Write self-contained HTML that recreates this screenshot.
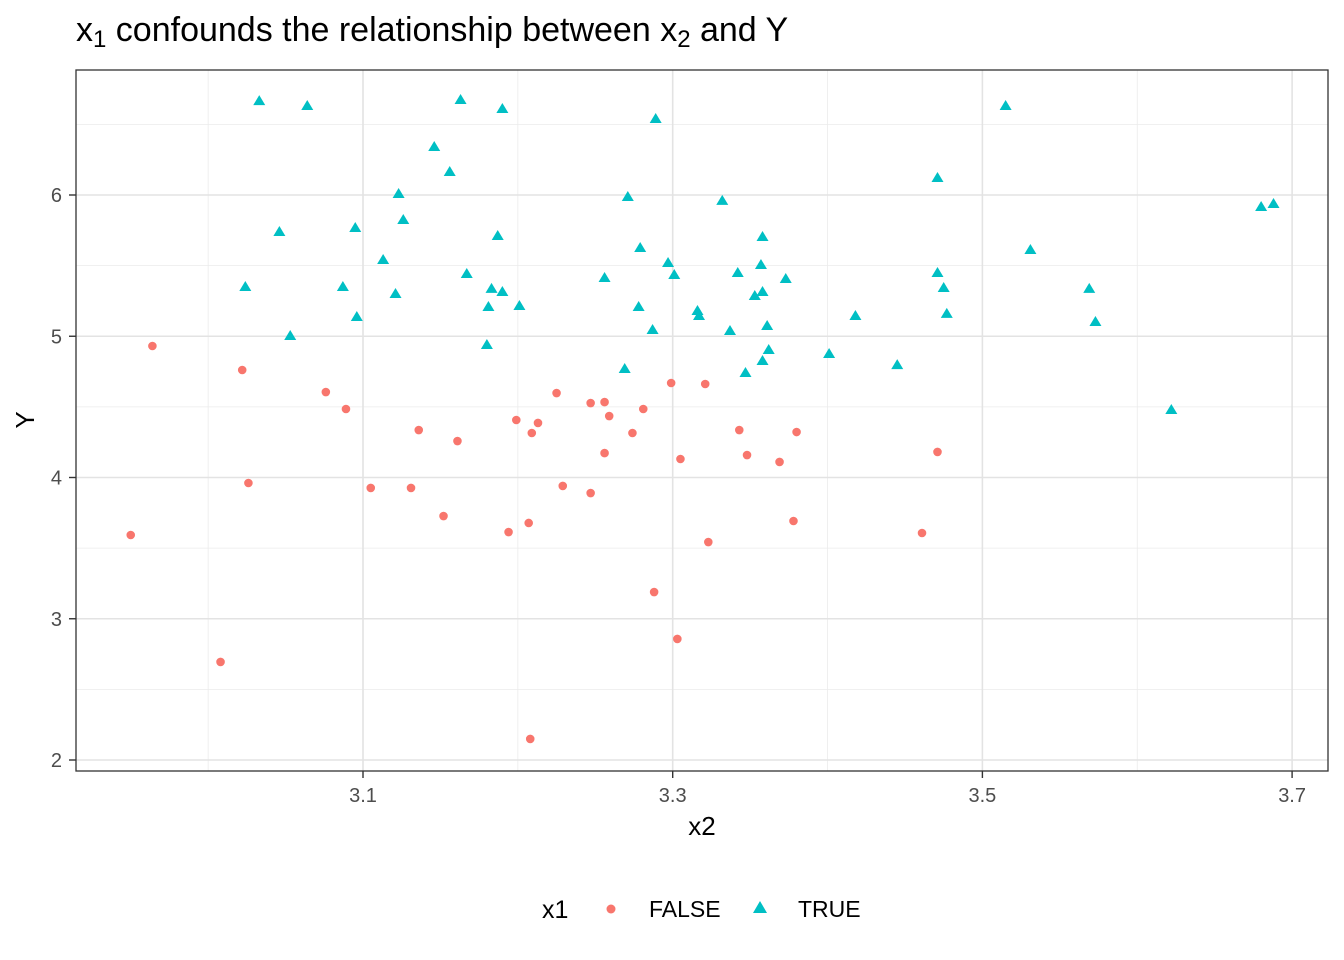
<!DOCTYPE html>
<html><head><meta charset="utf-8"><style>body{margin:0;background:#fff}svg{display:block;font-family:"Liberation Sans",Arial,sans-serif}</style></head>
<body>
<svg id="chart" width="1344" height="960" viewBox="0 0 1344 960">
<text x="76" y="41" font-size="34" fill="#000">x<tspan font-size="24" dy="6">1</tspan><tspan dy="-6"> confounds the relationship between x</tspan><tspan font-size="24" dy="6">2</tspan><tspan dy="-6"> and Y</tspan></text>
<g id="grid"></g>
<g id="points"></g>
<rect x="76" y="70" width="1252" height="701" fill="none" stroke="#333" stroke-width="1.3"/>
<g id="axes"></g>
<text x="702" y="835" font-size="26" text-anchor="middle">x2</text>
<text transform="translate(34,420) rotate(-90)" font-size="26" text-anchor="middle">Y</text>
<g>
<text x="542" y="918" font-size="25">x1</text>
<circle cx="611" cy="909" r="4.5" fill="#F8766D"/>
<text x="649" y="917" font-size="23">FALSE</text>
<polygon points="760,901 767,913 753,913" fill="#00BFC4"/>
<text x="798" y="917" font-size="23">TRUE</text>
</g>
</svg>
<script>
const falseX=[2.950,2.964,3.022,3.026,3.008,3.076,3.089,3.105,3.131,3.136,3.152,3.161,3.194,3.199,3.207,3.208,3.209,3.213,3.225,3.229,3.247,3.247,3.256,3.256,3.259,3.274,3.281,3.288,3.299,3.303,3.305,3.321,3.323,3.343,3.348,3.369,3.378,3.380,3.461,3.471];
const falseY=[3.593,4.931,4.761,3.961,2.694,4.605,4.485,3.926,3.926,4.336,3.727,4.258,3.614,4.407,3.678,2.149,4.315,4.386,4.598,3.940,4.527,3.890,4.534,4.173,4.435,4.315,4.485,3.189,4.669,2.857,4.131,4.662,3.543,4.336,4.159,4.110,3.692,4.322,3.607,4.181];
const trueX=[3.033,3.064,3.163,3.190,3.289,3.515,3.146,3.156,3.123,3.126,3.046,3.095,3.024,3.053,3.087,3.113,3.121,3.096,3.167,3.183,3.187,3.190,3.201,3.181,3.180,3.271,3.256,3.279,3.278,3.287,3.269,3.297,3.301,3.316,3.317,3.332,3.342,3.337,3.357,3.358,3.353,3.358,3.361,3.358,3.362,3.347,3.373,3.401,3.418,3.445,3.471,3.471,3.475,3.477,3.531,3.569,3.573,3.622,3.680,3.688];
const trueY=[6.665,6.630,6.673,6.609,6.538,6.630,6.340,6.163,6.007,5.823,5.738,5.766,5.349,5.002,5.349,5.540,5.299,5.136,5.441,5.335,5.710,5.313,5.214,5.207,4.938,5.986,5.412,5.625,5.207,5.044,4.768,5.519,5.434,5.179,5.143,5.958,5.448,5.037,5.504,5.313,5.285,5.703,5.073,4.825,4.903,4.740,5.405,4.874,5.143,4.796,6.120,5.448,5.342,5.158,5.611,5.335,5.101,4.478,5.915,5.936];
const xTicks=[3.1,3.3,3.5,3.7];
const xMinor=[3.0,3.2,3.4,3.6];
const yTicks=[2,3,4,5,6];
const yMinor=[2.5,3.5,4.5,5.5,6.5];
const NS='http://www.w3.org/2000/svg';
const sx=v=>363+(v-3.1)*1548.5;
const sy=v=>195+(6-v)*141.25;
const T=70,B=771;
function mk(t,a,p){const e=document.createElementNS(NS,t);for(const k in a)e.setAttribute(k,a[k]);p.appendChild(e);return e;}
const g=document.getElementById('grid'),ax=document.getElementById('axes'),pts=document.getElementById('points');
xMinor.forEach(v=>{const l=mk('line',{x1:sx(v),x2:sx(v),y1:T,y2:B,stroke:'#ebebeb','stroke-width':0.8},g);});
yMinor.forEach(v=>{const l=mk('line',{x1:76,x2:1328,y1:sy(v),y2:sy(v),stroke:'#ebebeb','stroke-width':0.8},g);});
xTicks.forEach(v=>{const l=mk('line',{x1:sx(v),x2:sx(v),y1:T,y2:B,stroke:'#e3e3e3','stroke-width':1.6},g);
const t=mk('line',{x1:sx(v),x2:sx(v),y1:B,y2:B+7,stroke:'#333','stroke-width':1.4},ax);
const s=mk('text',{x:sx(v),y:802,'font-size':20,fill:'#4d4d4d','text-anchor':'middle'},ax);s.textContent=v.toFixed(1);});
yTicks.forEach(v=>{const l=mk('line',{x1:76,x2:1328,y1:sy(v),y2:sy(v),stroke:'#e3e3e3','stroke-width':1.6},g);
const t=mk('line',{x1:69,x2:76,y1:sy(v),y2:sy(v),stroke:'#333','stroke-width':1.4},ax);
const s=mk('text',{x:62,y:sy(v)+7,'font-size':20,fill:'#4d4d4d','text-anchor':'end'},ax);s.textContent=String(v);});
falseX.forEach((v,i)=>{const c=mk('circle',{cx:sx(v),cy:sy(falseY[i]),r:4.3,fill:'#F8766D'},pts);});
trueX.forEach((v,i)=>{const x=sx(v),y=sy(trueY[i]);const p=mk('polygon',{points:`${x},${y-6} ${x+6},${y+4} ${x-6},${y+4}`,fill:'#00BFC4'},pts);});
</script>
</body></html>
